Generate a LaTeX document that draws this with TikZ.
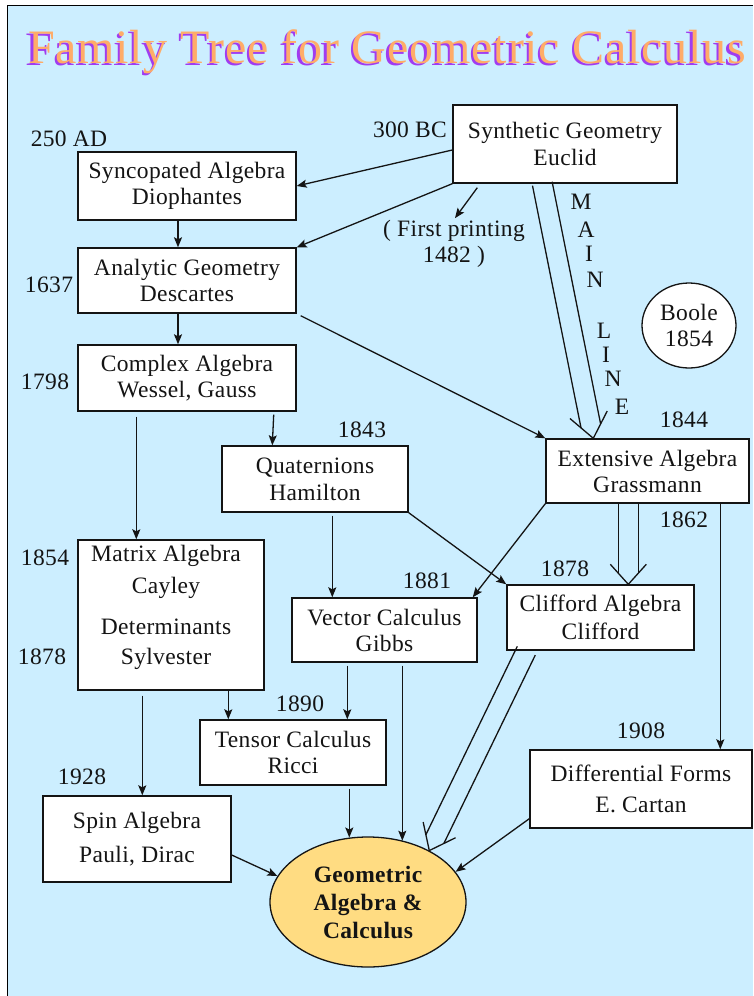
\documentclass[tikz,border=0pt]{standalone}
\usepackage{fontspec}
\setmainfont{Liberation Serif}[LetterSpace=1.5]
\usetikzlibrary{calc,arrows.meta,shapes.geometric}
\definecolor{bgblue}{RGB}{204,238,255}
\definecolor{gafill}{RGB}{255,220,130}
\definecolor{ttlorange}{RGB}{255,172,104}
\definecolor{ttlpurple}{RGB}{160,60,240}
\definecolor{ink}{RGB}{20,20,20}
\tikzset{
  every node/.append style={font=\fontsize{23.5}{26}\selectfont, text=ink},
  bx/.style={draw=ink, line width=1.4pt, fill=white, inner sep=2pt, align=center},
  ell/.style={ellipse, draw=ink, line width=1.3pt, inner sep=0pt, align=center},
  yr/.style={inner sep=0pt},
  arr/.style={-{Stealth[length=10pt,width=8pt,inset=2pt]}, line width=1.3pt, draw=ink},
  dln/.style={line width=1.3pt, draw=ink},
}
\newcommand\dblarrow[6]{%
  \coordinate (dbq) at ($(#2)!#4!(#1)$);
  \coordinate (dba) at ($(#2)!#6!(#1)$);
  \draw[dln] ($(#1)!#3!90:(#2)$) -- ($(dbq)!#3!90:(#2)$);
  \draw[dln] ($(#1)!#3!-90:(#2)$) -- ($(dbq)!#3!-90:(#2)$);
  \draw[dln, line join=miter] ($(dba)!#5!90:(#2)$) -- (#2) -- ($(dba)!#5!-90:(#2)$);
}
\begin{document}
\begin{tikzpicture}[x=1pt,y=-1pt]
\useasboundingbox (0,0) rectangle (753,996);
\fill[bgblue] (7.5,5.5) rectangle (753,996);
\draw[line width=1.5pt, black] (7.5,996) -- (7.5,5.5) -- (753,5.5);

% title
\node[anchor=base west, inner sep=0pt, text=ttlpurple, font=\fontsize{48}{50}\selectfont] (ttlshadow) at (25.5,65.5) {Family Tree for Geometric Calculus};
\node[anchor=base west, inner sep=0pt, text=ttlorange, font=\fontsize{48}{50}\selectfont] (ttl) at (28,63) {Family Tree for Geometric Calculus};

% boxes
\node[bx, minimum width=224pt, minimum height=78pt] (euclid) at (565,144) {Synthetic Geometry\\[1pt]Euclid};
\node[bx, minimum width=218pt, minimum height=68pt] (synco) at (187,186) {Syncopated Algebra\\Diophantes};
\node[bx, minimum width=218pt, minimum height=65pt] (analytic) at (187,280.5) {Analytic Geometry\\Descartes};
\node[bx, minimum width=218pt, minimum height=66pt] (complex) at (187,378) {Complex Algebra\\Wessel, Gauss};
\node[bx, minimum width=186pt, minimum height=66pt] (quat) at (315,479) {Quaternions\\[1pt]Hamilton};
\node[bx, minimum width=203pt, minimum height=64pt] (grass) at (647.5,471) {Extensive Algebra\\Grassmann};
\node[ell, fill=white, minimum width=94pt, minimum height=85pt] (boole) at (689,325.5) {Boole\\1854};
\node[bx, minimum width=186pt, minimum height=150pt] (matrix) at (171,615) {};
\node[align=center, inner sep=0pt] (matrixtext) at (166,607) {Matrix Algebra\\[6pt]Cayley\\[15pt]Determinants\\[4pt]Sylvester};
\node[bx, minimum width=185pt, minimum height=64pt] (vector) at (384.5,630) {Vector Calculus\\Gibbs};
\node[bx, minimum width=187pt, minimum height=65pt] (clifford) at (600.5,617.5) {Clifford Algebra\\[2pt]Clifford};
\node[bx, minimum width=186pt, minimum height=65pt] (tensor) at (293,752.5) {Tensor Calculus\\Ricci};
\node[bx, minimum width=222pt, minimum height=78pt] (diff) at (641,789) {Differential Forms\\[5pt]E. Cartan};
\node[bx, minimum width=188pt, minimum height=86pt] (spin) at (137,839) {Spin Algebra\\[8pt]Pauli, Dirac};
\node[ell, fill=gafill, minimum width=196pt, minimum height=130pt, font=\bfseries\fontsize{23.5}{26}\selectfont] (ga) at (368,902) {Geometric\\[2pt]Algebra \&\\[2pt]Calculus};

% year labels
\node[yr] (y300) at (410,130) {300 BC};
\node[yr] (y250) at (69,139) {250 AD};
\node[yr] (y1637) at (49,285) {1637};
\node[yr] (y1798) at (45,382) {1798};
\node[yr] (y1843) at (362,430) {1843};
\node[yr] (y1844) at (684,420) {1844};
\node[yr] (y1862) at (684,520) {1862};
\node[yr] (y1878c) at (565,569) {1878};
\node[yr] (y1881) at (427,581) {1881};
\node[yr] (y1854) at (45,558) {1854};
\node[yr] (y1878s) at (42,657) {1878};
\node[yr] (y1890) at (300,704) {1890};
\node[yr] (y1908) at (641,731) {1908};
\node[yr] (y1928) at (82,777) {1928};
\node[align=center, inner sep=0pt] (fp) at (454,244) {( First printing\\1482 )};

% MAIN LINE letters
\foreach \ch/\px/\py [count=\i] in {M/581/202, A/586/230, I/589/254, N/595/280, L/604/331, I/606/355, N/613/379, E/622/407}
  \node[yr] (ml\i) at (\px,\py) {\ch};

% single arrows
\draw[arr] ($(euclid.west)+(0,6)$) -- (synco.east);
\draw[arr] (euclid.south west) -- (analytic.north east);
\draw[arr] ($(euclid.south west)+(25,4)$) -- ($(fp.north)+(1,-2)$);
\draw[arr] ($(synco.south)+(-9,0)$) -- ($(analytic.north)+(-9,0)$);
\draw[arr] ($(analytic.south)+(-9,0)$) -- ($(complex.north)+(-9,0)$);
\draw[arr] ($(analytic.south east)+(4,2)$) -- (grass.north west);
\draw[arr] ($(complex.south east)+(-23,3)$) -- ($(quat.north west)+(51,0)$);
\draw[arr] ($(complex.south west)+(59,5)$) -- ($(matrix.north west)+(59,0)$);
\draw[arr] ($(quat.south west)+(111,3)$) -- ($(vector.north west)+(41,0)$);
\draw[arr] (quat.south east) -- (clifford.north west);
\draw[arr] (grass.south west) -- ($(vector.north east)+(-5,0)$);
\draw[arr] ($(grass.south west)+(175,0)$) -- ($(diff.north west)+(191,0)$);
\draw[arr] ($(matrix.south west)+(151,0)$) -- ($(tensor.north west)+(29,0)$);
\draw[arr] ($(matrix.south west)+(65,5)$) -- ($(spin.north west)+(100,0)$);
\draw[arr] ($(vector.south west)+(56,3)$) -- ($(tensor.north west)+(148,0)$);
\coordinate (vq) at ($(vector.south west)+(111,3)$);
\draw[arr] (vq) -- (vq |- ga.60);
\coordinate (tq) at ($(tensor.south west)+(150,3)$);
\draw[arr] (tq) -- (tq |- ga.106);
\draw[arr] ($(spin.east)+(0,16)$) -- (ga.164);
\draw[arr] ($(diff.south west)+(0,-10)$) -- (ga.19);

% double (main line) arrows
\coordinate (m1s) at ($(euclid.south west)+(90,0)$);
\coordinate (m1t) at ($(grass.north west)+(48,0)$);
\dblarrow{m1s}{m1t}{10pt}{12.6pt}{19pt}{24pt}
\coordinate (m2s) at ($(grass.south west)+(83,0)$);
\coordinate (m2t) at ($(clifford.north west)+(122,0)$);
\dblarrow{m2s}{m2t}{10pt}{11.1pt}{18pt}{20pt}
\coordinate (m3s) at ($(clifford.south west)+(20,0)$);
\coordinate (m3t) at (ga.40);
\dblarrow{m3s}{m3t}{10pt}{12.8pt}{18pt}{23pt}
\end{tikzpicture}
\end{document}
